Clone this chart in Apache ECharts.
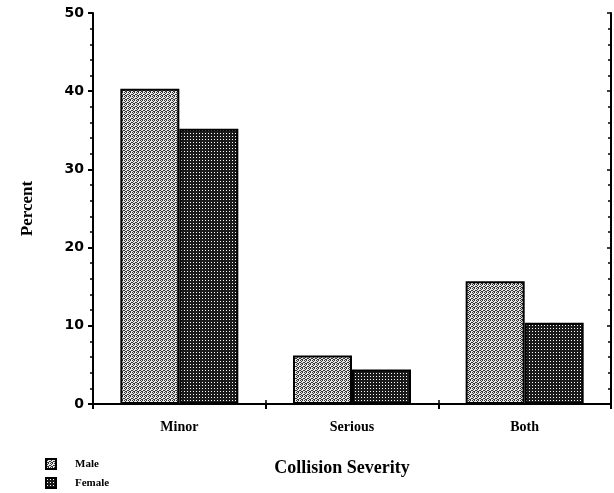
<!DOCTYPE html>
<html><head><meta charset="utf-8">
<script src="https://cdn.jsdelivr.net/npm/echarts@6/dist/echarts.min.js"></script>
<style>html,body{margin:0;padding:0;background:#fff}#c{width:614px;height:493px}</style>
</head><body><div id="c"></div>
<script>
const categories = ['Minor', 'Serious', 'Both'];
const maleValues = [40.3, 6.2, 15.7];
const femaleValues = [35.2, 4.4, 10.4];
const yTicks = [0, 10, 20, 30, 40, 50];
const seriesNames = ['Male', 'Female'];

function makePattern(w, h, bg, fg, pts) {
  const c = document.createElement('canvas');
  c.width = w; c.height = h;
  const g = c.getContext('2d');
  g.fillStyle = bg; g.fillRect(0, 0, w, h);
  g.fillStyle = fg;
  pts.forEach(p => g.fillRect(p[0], p[1], 1, 1));
  return c;
}
const malePat = makePattern(4, 4, '#e8e8e8', '#333',
  [[0,0],[2,0],[1,1],[3,2],[0,2],[2,3],[1,3]]);
const femalePat = makePattern(3, 3, '#1a1a1a', '#ffffff', [[1,1]]);

const chart = echarts.init(document.getElementById('c'), null, {renderer: 'canvas'});
const serif = '"Liberation Serif", "Times New Roman", serif';
const legendText = {fontFamily: serif, fontSize: 11, fontWeight: 'bold', color: '#000', padding: [0, 0, 0, 14]};
chart.setOption({
  animation: false,
  grid: {left: 93, right: 3, top: 13, bottom: 89},
  legend: [{
    left: 40, top: 453, itemWidth: 10, itemHeight: 10, icon: 'rect',
    textStyle: legendText, data: [seriesNames[0]]
  }, {
    left: 40, top: 472, itemWidth: 10, itemHeight: 10, icon: 'rect',
    textStyle: legendText, data: [seriesNames[1]]
  }],
  xAxis: [{
    type: 'category', data: categories, position: 'bottom',
    name: 'Collision Severity', nameLocation: 'middle', nameGap: 55,
    nameTextStyle: {fontFamily: serif, fontSize: 18, fontWeight: 'bold', color: '#000', padding: [0, 20, 0, 0]},
    axisLine: {lineStyle: {color: '#000', width: 2}},
    axisTick: {show: true, length: 5, lineStyle: {color: '#000', width: 2}},
    axisLabel: {fontFamily: serif, fontSize: 14, fontWeight: 'bold', color: '#000', margin: 16}
  }, {
    type: 'category', data: categories, position: 'top',
    axisLine: {lineStyle: {color: '#000', width: 2}},
    axisTick: {show: true, length: 4, lineStyle: {color: '#000', width: 1.5}},
    axisLabel: {show: false}
  }],
  yAxis: [{
    type: 'value', min: 0, max: 50, interval: 10, position: 'left',
    name: 'Percent', nameLocation: 'middle', nameGap: 57, nameRotate: 90,
    nameTextStyle: {fontFamily: serif, fontSize: 17, fontWeight: 'bold', color: '#000'},
    axisLine: {show: true, lineStyle: {color: '#000', width: 2}},
    axisTick: {show: true, length: 5, lineStyle: {color: '#000', width: 2}},
    minorTick: {show: true, splitNumber: 5, length: 3, lineStyle: {color: '#000', width: 1.5}},
    splitLine: {show: false},
    axisLabel: {fontFamily: '"DejaVu Sans", sans-serif', fontSize: 14, fontWeight: 'bold', color: '#000', margin: 9,
      formatter: v => yTicks.includes(v) ? String(v) : ''}
  }, {
    type: 'value', min: 0, max: 50, interval: 10, position: 'right',
    axisLine: {show: true, lineStyle: {color: '#000', width: 2}},
    axisTick: {show: true, inside: true, length: 4, lineStyle: {color: '#000', width: 1.5}},
    minorTick: {show: true, splitNumber: 5, length: 3, lineStyle: {color: '#000', width: 1.5}},
    splitLine: {show: false},
    axisLabel: {show: false}
  }],
  series: [{
    name: seriesNames[0], type: 'bar', data: maleValues, barWidth: 59, barGap: '0%',
    itemStyle: {color: {image: malePat, repeat: 'repeat'}, borderColor: '#000', borderWidth: 2}
  }, {
    name: seriesNames[1], type: 'bar', data: femaleValues, barWidth: 59,
    itemStyle: {color: {image: femalePat, repeat: 'repeat'}, borderColor: '#000', borderWidth: 2}
  }]
});
</script></body></html>
